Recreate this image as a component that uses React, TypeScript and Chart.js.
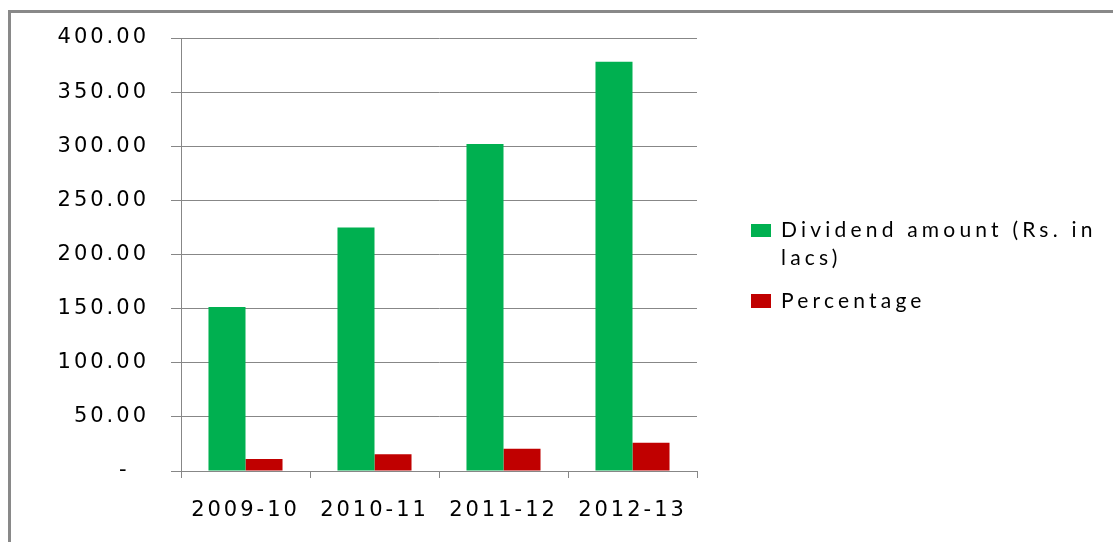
import React, { useEffect, useRef } from "react";
import { Chart, registerables } from "chart.js";

Chart.register(...registerables);

const categories = ["2009-10", "2010-11", "2011-12", "2012-13"];
const dividendAmount = [151.6, 225.0, 302.0, 378.0];
const percentage = [11.0, 15.5, 20.5, 26.0];
const yTickValues = [0, 50, 100, 150, 200, 250, 300, 350, 400];
const seriesNames = ["Dividend amount (Rs. in lacs)", "Percentage"];

const GREEN = "#00B050";
const RED = "#C00000";
const GRID = "#878787";

const spacingPlugin = {
  id: "letterSpacing",
  beforeUpdate(chart: any) {
    chart.ctx.letterSpacing = "3px";
  },
  beforeDraw(chart: any) {
    chart.ctx.letterSpacing = "3px";
  },
};

export default function App() {
  const ref = useRef<HTMLCanvasElement | null>(null);

  useEffect(() => {
    if (!ref.current) return;
    const axisFont = { family: "'DejaVu Sans'", size: 21 };
    const chart = new Chart(ref.current, {
      type: "bar",
      data: {
        labels: categories,
        datasets: [
          {
            label: seriesNames[0],
            data: dividendAmount,
            backgroundColor: GREEN,
            borderWidth: 0,
            categoryPercentage: 0.574,
            barPercentage: 1,
          },
          {
            label: seriesNames[1],
            data: percentage,
            backgroundColor: RED,
            borderWidth: 0,
            categoryPercentage: 0.574,
            barPercentage: 1,
          },
        ],
      },
      options: {
        animation: false,
        responsive: false,
        layout: { padding: { top: 38, right: 416, bottom: 0, left: 0 } },
        plugins: {
          legend: { display: false },
          tooltip: { enabled: false },
        },
        scales: {
          x: {
            offset: true,
            grid: {
              offset: true,
              drawOnChartArea: false,
              drawTicks: true,
              tickLength: 7,
              color: GRID,
              lineWidth: 1,
            },
            border: { display: true, color: GRID, width: 1 },
            ticks: {
              font: axisFont,
              color: "#000",
              padding: 20,
              maxRotation: 0,
              autoSkip: false,
            },
            afterFit: (scale: any) => {
              scale.height = 71;
            },
          },
          y: {
            min: 0,
            max: 400,
            afterBuildTicks: (scale: any) => {
              scale.ticks = yTickValues.map((v) => ({ value: v }));
            },
            grid: {
              color: GRID,
              lineWidth: 1,
              drawTicks: true,
              tickLength: 10,
            },
            border: { display: true, color: GRID, width: 1 },
            ticks: {
              font: axisFont,
              color: "#000",
              padding: 22,
              callback: (v: any) => (Number(v) === 0 ? "-  " : Number(v).toFixed(2)),
            },
            afterFit: (scale: any) => {
              scale.width = 181;
            },
          },
        },
      },
      plugins: [spacingPlugin],
    });
    return () => chart.destroy();
  }, []);

  const legendText: React.CSSProperties = {
    position: "absolute",
    left: 781,
    fontFamily: "Lato",
    fontSize: 21,
    lineHeight: "27px",
    letterSpacing: "4.2px",
    color: "#000",
    whiteSpace: "nowrap",
  };

  return (
    <div
      style={{
        position: "fixed",
        left: 0,
        top: 0,
        width: 1113,
        height: 542,
        overflow: "hidden",
        background: "#fff",
      }}
    >
      <div
        style={{
          position: "absolute",
          left: 8,
          top: 10,
          width: 1300,
          height: 800,
          border: "3px solid #898989",
        }}
      />
      <canvas
        ref={ref}
        width={1113}
        height={542}
        style={{ position: "absolute", left: 0, top: 0 }}
      />
      <div style={{ position: "absolute", left: 751, top: 224, width: 20, height: 13, background: GREEN }} />
      <div style={{ ...legendText, top: 215 }}>Dividend amount (Rs. in</div>
      <div style={{ ...legendText, top: 243 }}>lacs)</div>
      <div style={{ position: "absolute", left: 751, top: 294, width: 20, height: 14, background: RED }} />
      <div style={{ ...legendText, top: 286 }}>{seriesNames[1]}</div>
    </div>
  );
}
